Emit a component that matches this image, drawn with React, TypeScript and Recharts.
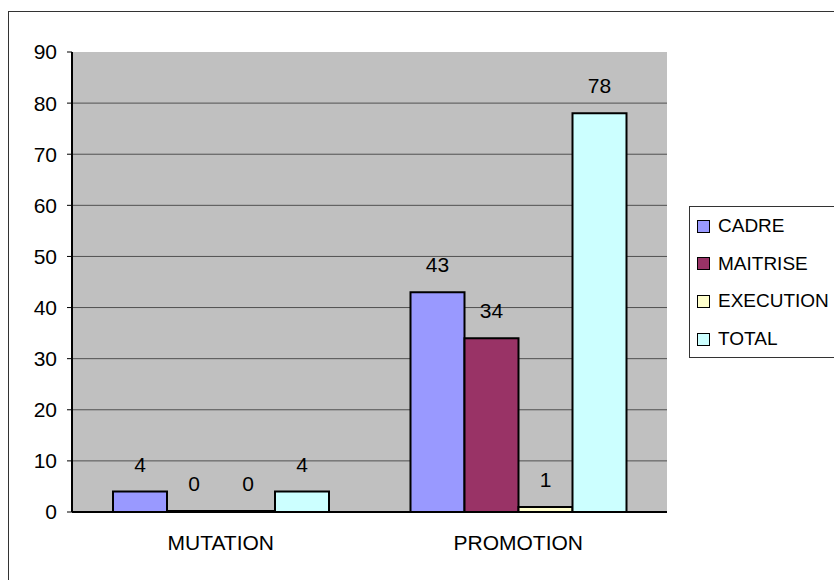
import React from 'react';
import {
  BarChart,
  Bar,
  XAxis,
  YAxis,
  CartesianGrid,
  LabelList,
} from 'recharts';

const categories = ['MUTATION', 'PROMOTION'];
const cadre = [4, 43];
const maitrise = [0, 34];
const execution = [0, 1];
const total = [4, 78];
const yTicks = [0, 10, 20, 30, 40, 50, 60, 70, 80, 90];

const seriesNames = ['CADRE', 'MAITRISE', 'EXECUTION', 'TOTAL'];
const seriesColors = ['#9999FF', '#993366', '#FFFFCC', '#CCFFFF'];

const data = categories.map((c, i) => ({
  name: c,
  CADRE: cadre[i],
  MAITRISE: maitrise[i],
  EXECUTION: execution[i],
  TOTAL: total[i],
}));

const FONT = 'Arial, "Liberation Sans", sans-serif';

function LegendBox() {
  return (
    <div
      style={{
        position: 'absolute',
        left: 689,
        top: 206,
        width: 200,
        height: 152,
        border: '1px solid #333',
        background: '#fff',
        boxSizing: 'border-box',
        fontFamily: FONT,
      }}
    >
      {seriesNames.map((s, i) => (
        <div
          key={s}
          style={{
            position: 'absolute',
            left: 0,
            top: 19 + i * 37.7 - 12,
            height: 24,
            display: 'flex',
            alignItems: 'center',
            fontSize: 19,
            color: '#000',
            whiteSpace: 'nowrap',
          }}
        >
          <span
            style={{
              display: 'inline-block',
              width: 11,
              height: 11,
              background: seriesColors[i],
              border: '1px solid #000',
              marginLeft: 7,
              marginRight: 8,
            }}
          />
          <span>{s}</span>
        </div>
      ))}
    </div>
  );
}

export default function App() {
  return (
    <div
      style={{
        position: 'absolute',
        left: 0,
        top: 0,
        width: 834,
        height: 580,
        overflow: 'hidden',
        background: '#fff',
      }}
    >
      <div
        style={{
          position: 'absolute',
          left: 8,
          top: 11,
          width: 900,
          height: 700,
          border: '1px solid #333',
          boxSizing: 'border-box',
        }}
      />
      <div style={{ position: 'absolute', left: 0, top: 0 }}>
        <BarChart
          width={834}
          height={580}
          data={data}
          margin={{ top: 52, right: 167, bottom: 0, left: 0 }}
          barGap={0}
          barCategoryGap={41}
          style={{ fontFamily: FONT }}
        >
          <CartesianGrid
            vertical={false}
            fill="#C0C0C0"
            stroke="#505050"
            strokeWidth={1}
            horizontalValues={[10, 20, 30, 40, 50, 60, 70, 80]}
          />
          <XAxis
            dataKey="name"
            xAxisId="main"
            tickLine={false}
            axisLine={{ stroke: '#000', strokeWidth: 2 }}
            tickSize={0}
            tickMargin={23}
            height={68}
            tick={{ fill: '#000', fontSize: 21 }}
          />
          <XAxis
            xAxisId="bounds"
            type="number"
            domain={[0, 2]}
            ticks={[0, 1, 2]}
            tick={false}
            axisLine={false}
            tickLine={{ stroke: '#000', strokeWidth: 1 }}
            tickSize={6}
            height={0}
            allowDataOverflow
          />
          <XAxis
            xAxisId="top"
            orientation="top"
            dataKey="name"
            tick={false}
            tickLine={false}
            axisLine={{ stroke: '#808080', strokeWidth: 2 }}
            height={0}
          />
          <YAxis
            domain={[0, 90]}
            ticks={yTicks}
            width={72}
            interval={0}
            axisLine={{ stroke: '#000', strokeWidth: 2 }}
            tickLine={{ stroke: '#000' }}
            tickSize={5}
            tickMargin={10}
            tick={{ fill: '#000', fontSize: 21 }}
          />
          <YAxis
            yAxisId="right"
            orientation="right"
            domain={[0, 90]}
            tick={false}
            tickLine={false}
            axisLine={{ stroke: '#808080', strokeWidth: 2 }}
            width={0}
          />
          {seriesNames.map((s, i) => (
            <Bar
              key={s}
              dataKey={s}
              xAxisId="main"
              fill={seriesColors[i]}
              stroke="#000"
              strokeWidth={2}
              minPointSize={1}
              isAnimationActive={false}
            >
              <LabelList
                dataKey={s}
                position="top"
                offset={20}
                fill="#000"
                fontSize={21}
                fontFamily={FONT}
              />
            </Bar>
          ))}
        </BarChart>
      </div>
      <LegendBox />
    </div>
  );
}
